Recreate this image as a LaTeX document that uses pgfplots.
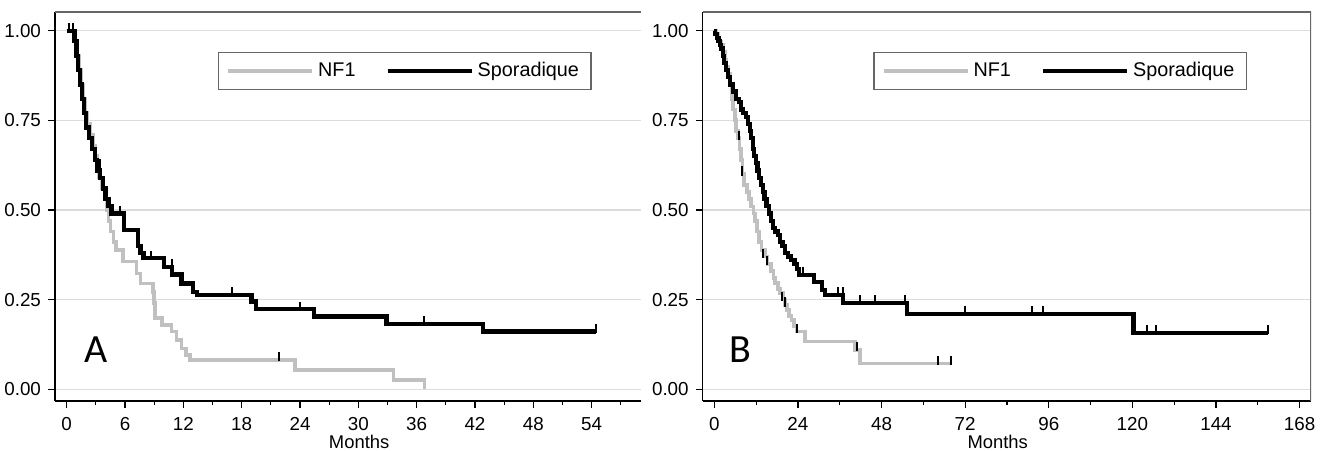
\documentclass[border=0pt]{standalone}
\usepackage{fontspec}
\setmainfont{Liberation Sans}
\newfontfamily\carlito{Carlito}
\usepackage{pgfplots}
\pgfplotsset{compat=1.18}
\definecolor{nfgray}{HTML}{C0C0C0}
\definecolor{gridgray}{HTML}{DCDCDC}
\definecolor{framegray}{HTML}{666666}

\pgfplotsset{
  kmstyle/.style={
    scale only axis,
    height=194.5pt,
    ymin=-0.0326, ymax=1.0519,
    ytick={0,0.25,0.5,0.75,1},
    yticklabel style={/pgf/number format/fixed, /pgf/number format/fixed zerofill, /pgf/number format/precision=2},
    xticklabel style={yshift=-1pt},
    /pgf/number format/assume math mode=true,
    tick label style={font=\fontsize{9.4}{11}\selectfont},
    axis x line*=bottom, axis y line*=left,
    axis line style={black, line width=0.7pt},
    tick align=outside,
    major tick length=3.5pt, minor tick length=2.2pt,
    tick style={black, line width=0.6pt},
    ymajorgrids, grid style={gridgray, line width=0.6pt},
    xlabel={Months},
    xlabel style={font=\fontsize{9.2}{11}\selectfont, anchor=center},
    legend cell align=left,
    legend style={anchor=north west, legend columns=2, draw=framegray, line width=0.6pt,
      font=\fontsize{9.9}{11}\selectfont, inner xsep=4pt, inner ysep=3pt,
      /tikz/every even column/.append style={column sep=13pt}},
    legend image code/.code={\draw[#1] (0pt,0pt) -- (38pt,0pt); \path (0pt,0pt) -- (42pt,0pt);},
  },
  nf/.style={nfgray, line width=1.8pt, const plot},
  spo/.style={black, line width=2.1pt, const plot},
  cens/.style={black, only marks, mark=|, mark size=2.3pt, forget plot,
    mark options={yshift=1.5pt, line width=1pt}},
}

\begin{document}
\begin{tikzpicture}
\path[use as bounding box] (0,0) rectangle (664pt,225pt);

% ---- Panel A
\begin{axis}[kmstyle,
  at={(27.5pt,24.5pt)}, anchor=south west,
  width=293pt,
  xmin=-1.204, xmax=59.08,
  xtick={0,6,...,54}, minor xtick={3,9,...,57},
  x label style={at={(axis description cs:0.519,-0.106)}},
  legend style={at={(axis description cs:0.278,0.898)}},
]
\draw[framegray, line width=0.7pt] (rel axis cs:0,1) -- (rel axis cs:1,1);

\addplot[nf] coordinates {
  (0,1.0) (0.9,0.97) (1.1,0.93) (1.3,0.89) (1.5,0.85) (1.7,0.81) (1.9,0.77)
  (2.1,0.74) (2.4,0.71) (2.7,0.68) (2.9,0.65) (3.1,0.62) (3.3,0.59) (3.6,0.56)
  (3.9,0.53) (4.1,0.50) (4.3,0.47) (4.5,0.44) (4.8,0.41) (5.1,0.388) (5.8,0.356)
  (7.2,0.323) (7.6,0.295) (8.9,0.272) (9.0,0.24) (9.1,0.198) (9.8,0.179)
  (10.8,0.161) (11.3,0.137) (11.8,0.114) (12.3,0.096) (12.7,0.082)
  (23.5,0.054) (33.6,0.026) (36.8,0.0)
};
\addlegendentry{NF1}

\addplot[spo] coordinates {
  (0,1.0) (0.8,0.97) (1.0,0.93) (1.2,0.89) (1.4,0.85) (1.6,0.81) (1.8,0.77)
  (2.0,0.73) (2.3,0.70) (2.6,0.67) (2.9,0.64) (3.1,0.61) (3.4,0.59) (3.7,0.56)
  (4.0,0.53) (4.3,0.51) (4.6,0.49) (5.9,0.444) (7.3,0.40) (7.6,0.38) (7.9,0.365)
  (10.0,0.342) (10.8,0.32) (11.8,0.295) (13.0,0.272) (13.4,0.263) (19.0,0.245)
  (19.5,0.223) (25.4,0.203) (32.9,0.182) (42.8,0.161) (54.4,0.161)
};
\addlegendentry{Sporadique}

\addplot[cens] coordinates {
  (0.2,1.0) (0.6,1.0) (3.2,0.62) (3.4,0.62) (21.8,0.082)
};
\addplot[cens] coordinates {
  (5.5,0.49) (8.7,0.365) (10.8,0.342) (17.0,0.263) (24.0,0.223)
  (36.8,0.182) (54.4,0.161)
};

\node[font=\carlito\fontsize{20}{22}\selectfont] at (axis cs:3.0,0.11) {A};
\end{axis}

% ---- Panel B
\begin{axis}[kmstyle,
  at={(351.35pt,24.5pt)}, anchor=south west,
  width=304.15pt,
  xmin=-3.33, xmax=171.27,
  xtick={0,24,...,168}, minor xtick={12,36,...,156},
  x label style={at={(axis description cs:0.485,-0.106)}},
  legend style={at={(axis description cs:0.2805,0.898)}},
]
\draw[framegray, line width=0.7pt] (rel axis cs:0,1) -- (rel axis cs:1,1) -- (rel axis cs:1,0);

\addplot[nf] coordinates {
  (0,1.0) (0.5,0.99) (1.0,0.98) (1.5,0.97) (2.0,0.96) (2.5,0.94) (3.0,0.92)
  (3.5,0.90) (4.0,0.88) (4.5,0.85) (5.0,0.81) (5.4,0.78) (5.9,0.75) (6.3,0.72)
  (6.8,0.70) (7.2,0.67) (7.7,0.64) (8.1,0.60) (8.6,0.57) (9.3,0.55) (10.0,0.53)
  (10.6,0.51) (11.2,0.49) (11.7,0.47) (12.2,0.44) (12.8,0.41) (13.6,0.388)
  (14.5,0.37) (15.3,0.35) (16.2,0.33) (17.0,0.31) (17.5,0.296) (18.3,0.28)
  (18.9,0.268) (19.7,0.25) (20.3,0.235) (20.8,0.221) (21.5,0.205) (22.2,0.193)
  (22.9,0.177) (23.6,0.161) (26.0,0.133) (40.4,0.11) (41.8,0.072) (67.8,0.072)
};
\addlegendentry{NF1}

\addplot[spo] coordinates {
  (0,1.0) (0.3,0.99) (0.8,0.98) (1.2,0.97) (1.6,0.96) (2.0,0.95) (2.4,0.93)
  (2.8,0.91) (3.4,0.89) (4.0,0.87) (4.6,0.85) (5.3,0.83) (6.2,0.81) (7.0,0.80)
  (7.6,0.78) (8.3,0.77) (9.0,0.76) (9.6,0.74) (10.2,0.72) (10.6,0.70) (11.0,0.67)
  (11.4,0.65) (11.9,0.63) (12.4,0.61) (12.9,0.59) (13.4,0.57) (13.9,0.55)
  (14.4,0.53) (15.0,0.51) (15.6,0.49) (16.2,0.47) (16.9,0.45) (17.5,0.44)
  (18.2,0.43) (18.9,0.41) (19.6,0.40) (20.4,0.38) (21.2,0.37) (22.0,0.36)
  (23.0,0.35) (23.8,0.335) (24.2,0.319) (28.5,0.30) (30.8,0.277) (31.8,0.263)
  (37.0,0.241) (55.2,0.21) (120.3,0.158) (159,0.158)
};
\addlegendentry{Sporadique}

\addplot[cens] coordinates {
  (7.0,0.70) (8.0,0.60) (14.1,0.37) (15.0,0.35) (19.3,0.25) (20.3,0.235)
  (23.7,0.161) (40.9,0.11) (64.3,0.072) (67.8,0.072)
};
\addplot[cens] coordinates {
  (23.5,0.335) (25.5,0.319) (35.6,0.263) (37.0,0.263) (41.8,0.241)
  (46.1,0.241) (54.7,0.241) (72.0,0.21) (91.1,0.21) (94.4,0.21)
  (124.1,0.158) (126.7,0.158) (159,0.158)
};

\node[font=\carlito\fontsize{20}{22}\selectfont] at (axis cs:7.5,0.11) {B};
\end{axis}
\end{tikzpicture}
\end{document}
